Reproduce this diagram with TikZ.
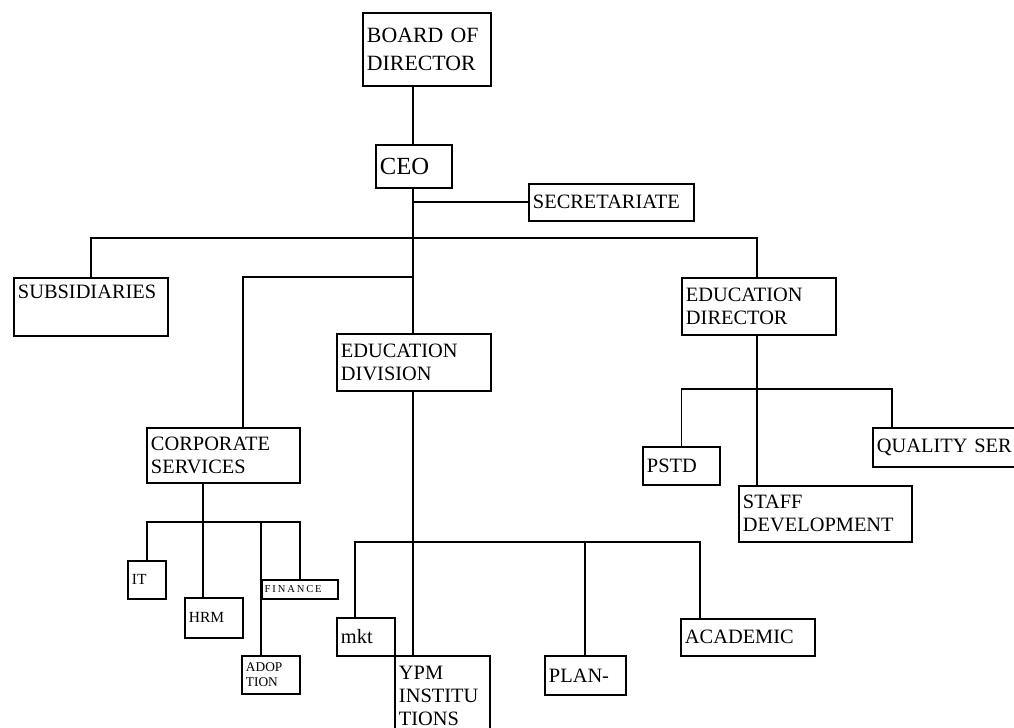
\documentclass[tikz,border=0pt]{standalone}
\usepackage{fontspec}
\setmainfont{Liberation Serif}
\usetikzlibrary{positioning}

\begin{document}
\begin{tikzpicture}[
		x=0.025cm, y=-0.025cm,
		orgbox/.style 2 args={draw, line width=1.1pt, anchor=north west, align=left,
			inner xsep=3pt, inner ysep=0pt, minimum width=#1*0.025cm,
			minimum height=#2*0.025cm, text width=#1*0.025cm-6pt,
			font=\fontsize{14.5}{16.5}\selectfont},
		link/.style={line width=1.1pt}
	]
	\clip (0,0) rectangle (1014,728);

	% boxes
	\node [orgbox={128}{73}, font=\fontsize{15.5}{20}\selectfont] (board) at (362,12) {BOARD OF\\DIRECTOR};
	\node [orgbox={76}{43}, font=\fontsize{17.5}{20}\selectfont] (ceo) at (375,144) {CEO};
	\node [orgbox={165}{37}] (secr) at (528,183) {SECRETARIATE};
	\node [orgbox={154}{58}] (subs) at (13,277) {SUBSIDIARIES\\\strut};
	\node [orgbox={154}{57}] (edudir) at (681,277) {EDUCATION\\DIRECTOR};
	\node [orgbox={154}{57}] (edudiv) at (336,333) {EDUCATION\\DIVISION};
	\node [orgbox={153}{55}] (corp) at (146,427) {CORPORATE\\SERVICES};
	\node [orgbox={77}{38}] (pstd) at (642,446) {PSTD};
	\node [orgbox={160}{39}] (quality) at (872,427) {QUALITY SER};
	\node [orgbox={173}{56}] (staff) at (738,485) {STAFF\\DEVELOPMENT};
	\node [orgbox={38}{38}, font=\fontsize{11}{12}\selectfont] (it) at (127,560) {IT};
	\node [orgbox={58}{40}, font=\fontsize{11}{12}\selectfont] (hrm) at (184,597) {HRM};
	\node [orgbox={76}{19}, inner xsep=2pt, text width=76*0.025cm-4pt,
		font=\fontsize{7.5}{8}\selectfont\addfontfeature{LetterSpace=18}] (finance) at (261,579) {FINANCE};
	\node [orgbox={58}{38}, font=\fontsize{9.5}{11}\selectfont] (adop) at (241,655) {ADOP\\TION};
	\node [orgbox={58}{38}] (mkt) at (336,617) {mkt};
	\node [orgbox={95}{80}] (ypm) at (394,655) {YPM\\INSTITU\\TIONS};
	\node [orgbox={81}{39}] (plan) at (544,655) {PLAN-};
	\node [orgbox={134}{37}] (academic) at (680,618) {ACADEMIC};

	% junctions
	\coordinate (spine) at (413,238);
	\coordinate (corpjoin) at (243,277);
	\coordinate (corpbar) at (203,522);
	\coordinate (divbar) at (413,542);
	\coordinate (dirbar) at (757,389);

	% top of the tree
	\draw [link] (board.south -| spine) -- (ceo.north -| spine);
	\draw [link] (ceo.south -| spine) -- (edudiv.north -| spine);
	\draw [link] (ceo.south -| spine) |- (secr.west);
	\draw [link] (subs.north) |- (spine) -| (edudir.north -| dirbar);
	\draw [link] (corpjoin -| spine) -- (corpjoin) -- (corpjoin |- corp.north);

	% corporate services
	\draw [link] (corp.south -| corpbar) -- (hrm.north -| corpbar);
	\draw [link] (it.north) |- (corpbar) -| (finance.north);
	\draw [link] (corpbar -| 261,0) -- (adop.north -| 261,0);

	% education division
	\draw [link] (edudiv.south -| divbar) -- (ypm.north -| divbar);
	\draw [link] (mkt.north -| 355,0) |- (divbar) -| (academic.north -| 700,0);
	\draw [link] (divbar -| 585,0) -- (plan.north -| 585,0);

	% education director
	\draw [link] (edudir.south -| dirbar) -- (staff.north -| dirbar);
	\draw [link] (pstd.north) |- (dirbar) -| (quality.north -| 892,0);
\end{tikzpicture}
\end{document}
